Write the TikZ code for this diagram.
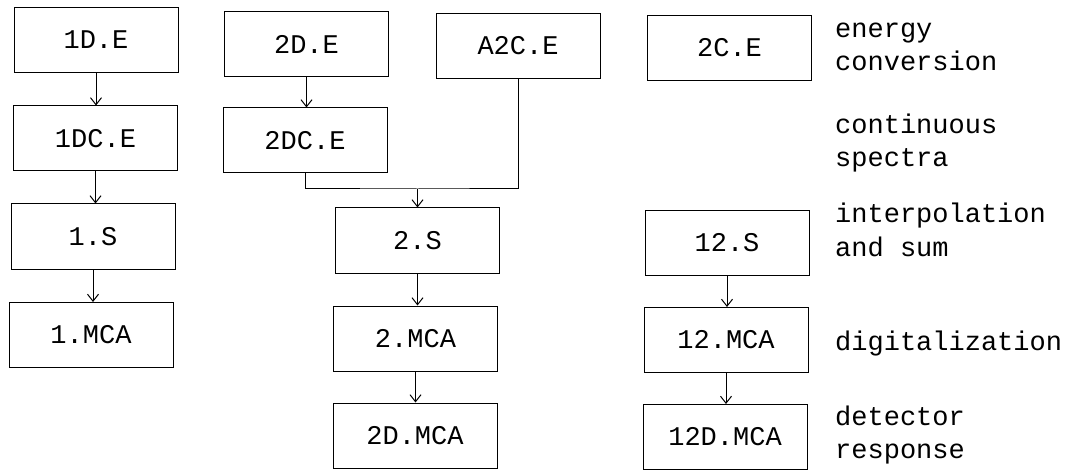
\documentclass[tikz,border=0pt]{standalone}
\usepackage{fontspec}
\setmainfont{Liberation Mono}
\usetikzlibrary{arrows.meta}
\tikzset{
  stage/.style={draw, line width=1pt, minimum width=164pt,
    minimum height=65pt, inner sep=0pt},
  flow/.style={-{Straight Barb[length=7pt,width=11pt]}, line width=1pt},
  note/.style={anchor=base west, align=left, inner sep=0pt}
}
\begin{document}
\begin{tikzpicture}[x=1pt, y=-1pt, font=\fontsize{27}{33}\selectfont]
    \useasboundingbox (0,0) rectangle (1078,470);
    % one-detector chain
    \node[stage] (e1) at (96,40) {1D.E};
    \node[stage] (dc1) at (95.5,138.5) {1DC.E};
    \node[stage] (s1) at (93,236.5) {1.S};
    \node[stage] (mca1) at (91,335) {1.MCA};
    % two-detector chain
    \node[stage] (e2) at (306.5,44) {2D.E};
    \node[stage] (a2c) at (518,46) {A2C.E};
    \node[stage] (dc2) at (305,140.5) {2DC.E};
    \node[stage] (s2) at (417.5,240.5) {2.S};
    \node[stage] (mca2) at (415.5,338.5) {2.MCA};
    \node[stage] (dmca2) at (415,435.5) {2D.MCA};
    % coincidence chain
    \node[stage] (c2) at (729.5,48) {2C.E};
    \node[stage] (s12) at (727,243) {12.S};
    \node[stage] (mca12) at (726,340) {12.MCA};
    \node[stage] (dmca12) at (725,437) {12D.MCA};
    % arrows
    \draw[flow] (e1.south) -- (e1.south |- dc1.north);
    \draw[flow] (dc1.south) -- (dc1.south |- s1.north);
    \draw[flow] (s1.south) -- (s1.south |- mca1.north);
    \draw[flow] (e2.south) -- (e2.south |- dc2.north);
    \coordinate (mrg) at (417.5,189);
    \draw[line width=1pt] (dc2.south) |- (mrg) -| (a2c.south);
    \draw[flow] (mrg) -- (s2.north);
    \draw[flow] (s2.south) -- (s2.south |- mca2.north);
    \draw[flow] (mca2.south) -- (mca2.south |- dmca2.north);
    \draw[flow] (s12.south) -- (s12.south |- mca12.north);
    \draw[flow] (mca12.south) -- (mca12.south |- dmca12.north);
    % stage notes (base = last line)
    \node[note] (n1) at (835,71) {energy\\conversion};
    \node[note] (n2) at (835,167) {continuous\\spectra};
    \node[note] (n3) at (835,256) {interpolation\\and sum};
    \node[note] (n4) at (835,350) {digitalization};
    \node[note] (n5) at (835,458) {detector\\response};
\end{tikzpicture}
\end{document}
